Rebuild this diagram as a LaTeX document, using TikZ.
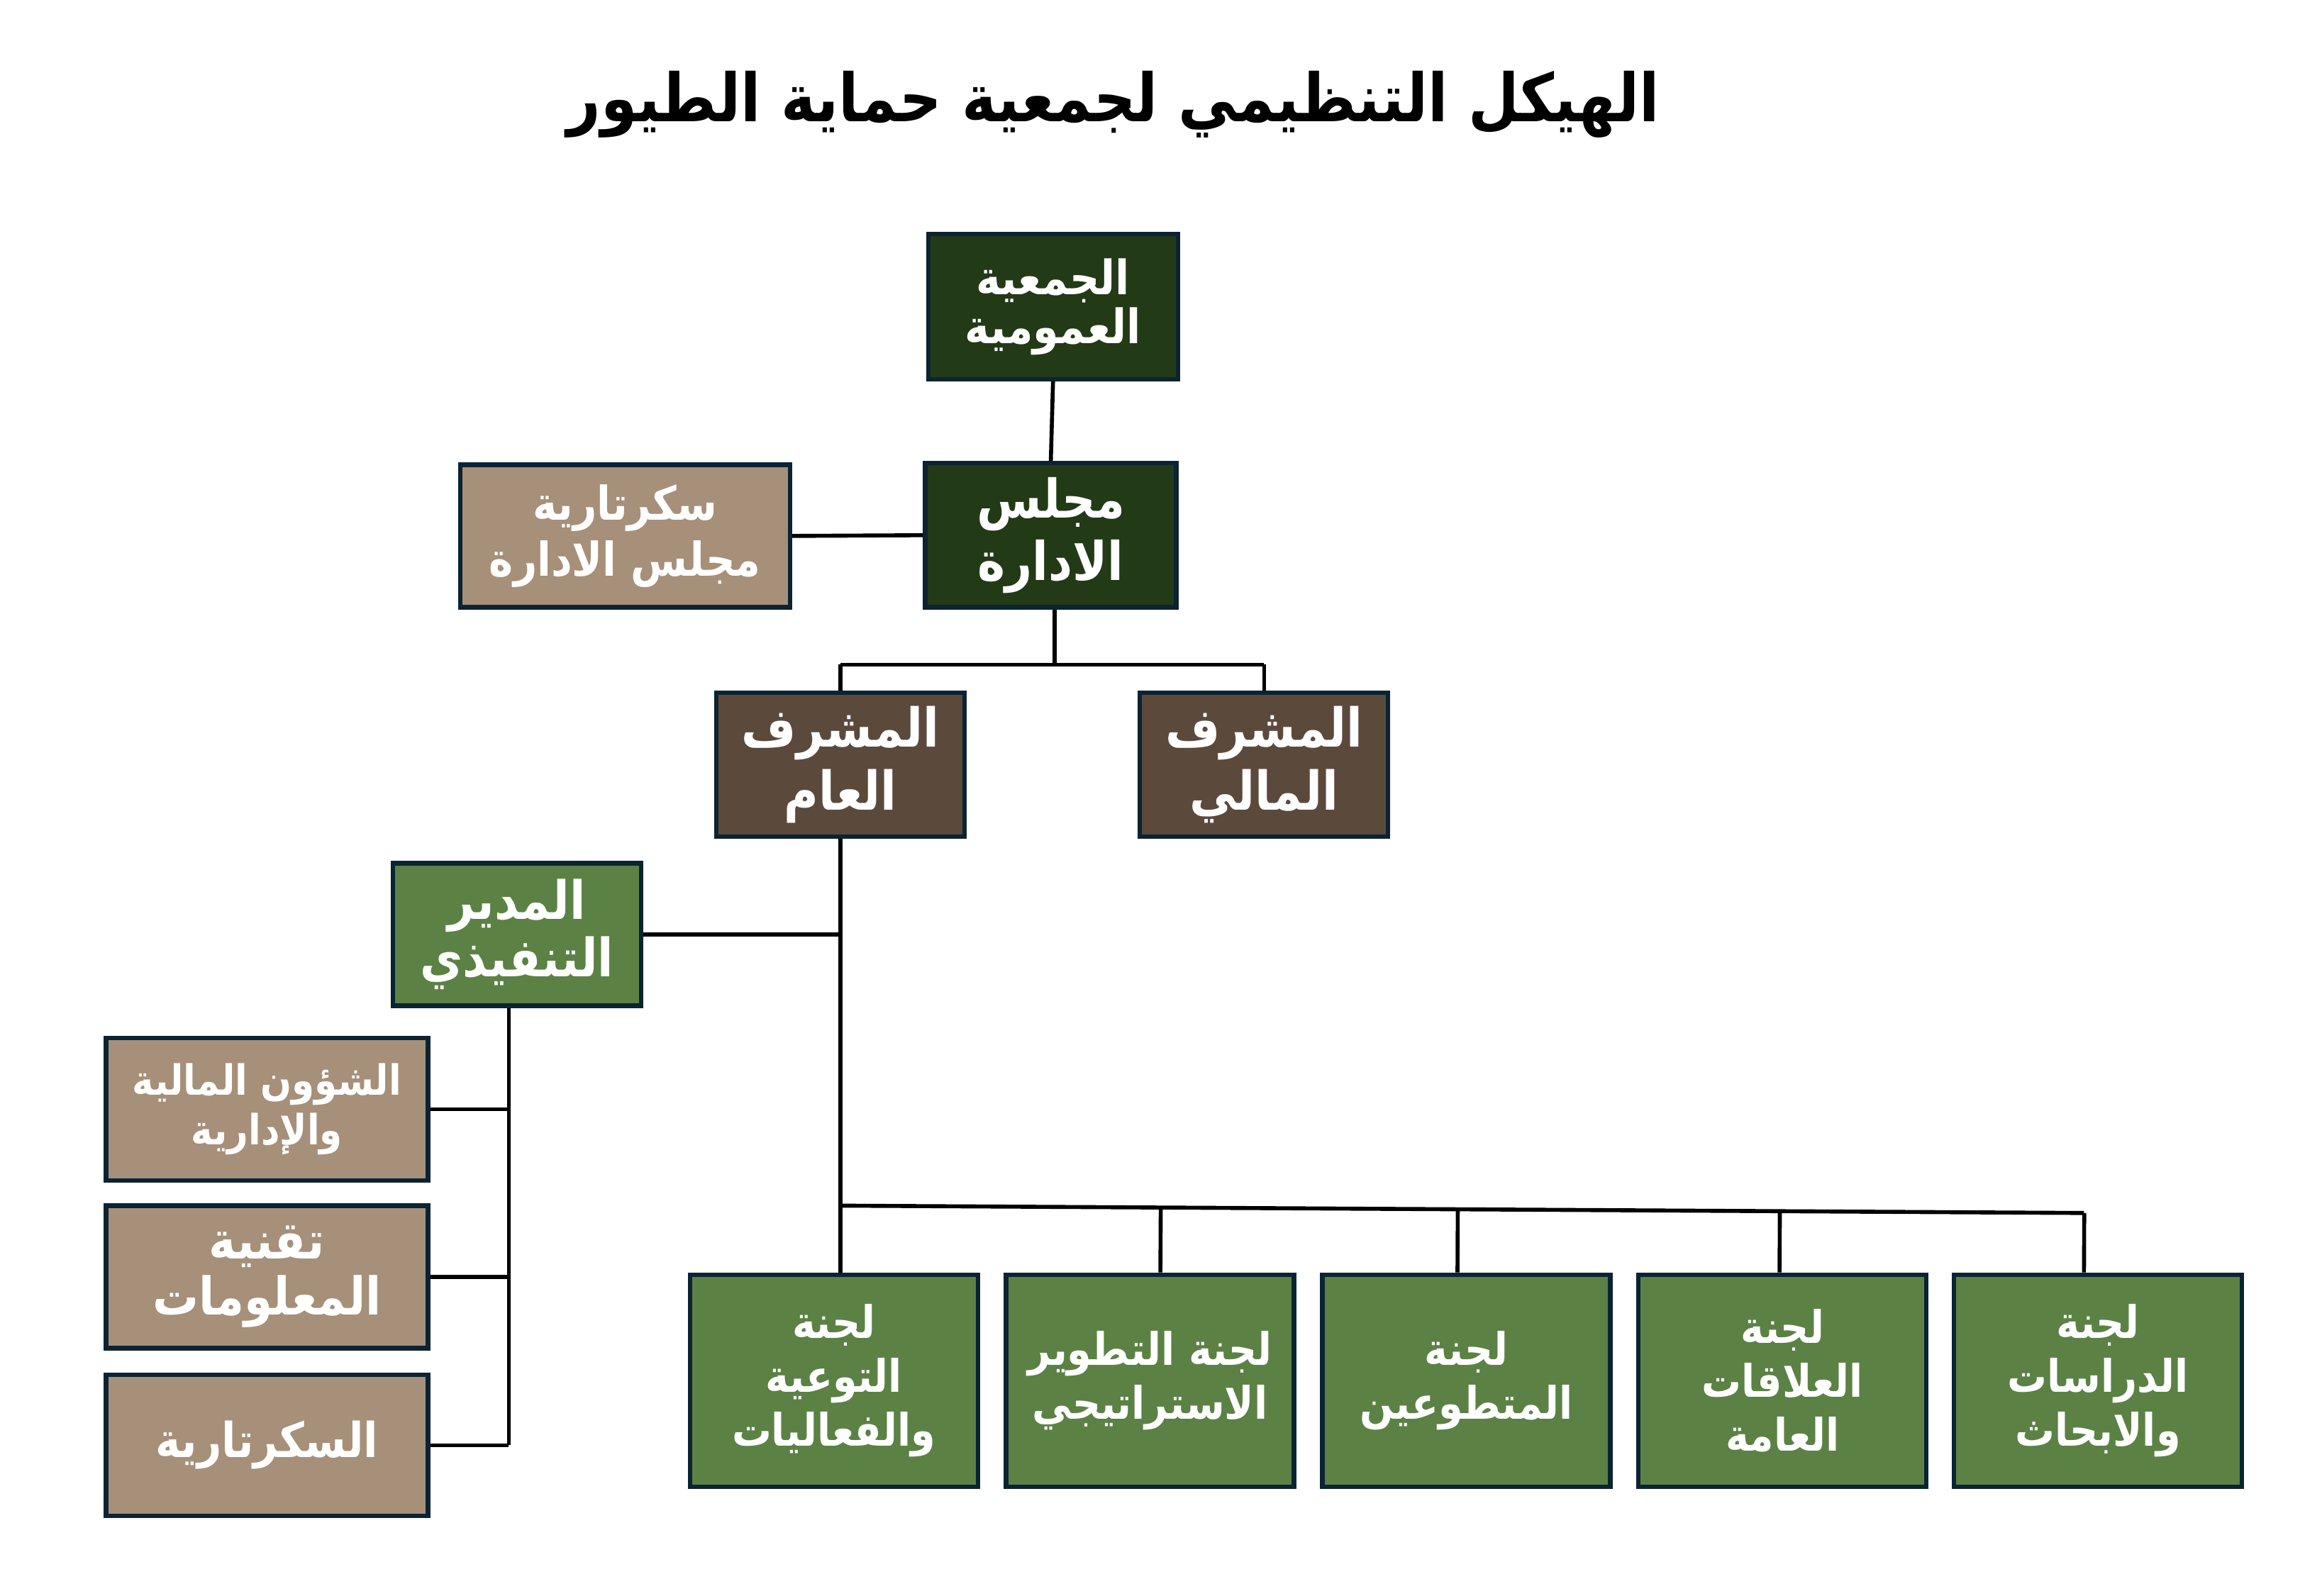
\documentclass[tikz,border=0pt]{standalone}
\usepackage{fontspec}
\TeXXeTstate=1
\newfontfamily\arfont[Script=Arabic, FakeStretch=0.88]{DejaVu Sans}
\newcommand\artxt[1]{\beginR #1\endR}
\usetikzlibrary{calc}
\definecolor{dkgreen}{HTML}{233A16}
\definecolor{mdgreen}{HTML}{5B8244}
\definecolor{tanbox}{HTML}{A69079}
\definecolor{brownbox}{HTML}{5B4A3C}
\definecolor{navyline}{HTML}{0B2333}
\begin{document}
\begin{tikzpicture}[x=0.02073cm,y=-0.02073cm,
  box/.style={draw=navyline, line width=1.8pt, text=white, align=center, inner sep=2pt},
  darkbox/.style={box, fill=dkgreen},
  brbox/.style={box, fill=brownbox, minimum width=3.50cm, minimum height=2.03cm, font=\arfont\bfseries\fontsize{21.5}{25.5}\selectfont},
  tbox/.style={box, fill=tanbox, minimum width=4.54cm, minimum height=2.01cm},
  gbox/.style={box, fill=mdgreen, minimum width=4.06cm, minimum height=2.99cm, font=\arfont\bfseries\fontsize{18}{21.6}\selectfont},
  conn/.style={draw=black, line width=1.6pt}]
\useasboundingbox (0,0) rectangle (32.5cm,-22.5cm);
\fill[white] (0,0) rectangle (32.5cm,-22.5cm);

\node[font=\arfont\bfseries\fontsize{26.7}{30}\selectfont] (title) at (757,71) {\artxt{الهيكل التنظيمي لجمعية حماية الطيور}};

\node[darkbox, minimum width=3.52cm, minimum height=2.05cm, font=\arfont\bfseries\fontsize{19}{19.6}\selectfont] (A) at (716,208.5) {\artxt{الجمعية}\\\artxt{العمومية}};
\node[darkbox, minimum width=3.54cm, minimum height=2.03cm, font=\arfont\bfseries\fontsize{21.4}{25}\selectfont] (B) at (714.5,364) {\artxt{مجلس}\\\artxt{الادارة}};
\node[box, fill=tanbox, minimum width=4.65cm, minimum height=2.01cm, font=\arfont\bfseries\fontsize{18.7}{22.5}\selectfont] (C) at (425,364.5) {\artxt{سكرتارية}\\\artxt{مجلس الادارة}};
\node[brbox] (D) at (571.5,520) {\artxt{المشرف}\\\artxt{العام}};
\node[brbox] (E) at (859.5,520) {\artxt{المشرف}\\\artxt{المالي}};
\node[box, fill=mdgreen, minimum width=3.50cm, minimum height=2.01cm, font=\arfont\bfseries\fontsize{21.2}{23}\selectfont] (F) at (351.5,635.5) {\artxt{المدير}\\\artxt{التنفيذي}};
\node[tbox, font=\arfont\bfseries\fontsize{16.7}{20}\selectfont] (G) at (181.5,754.5) {\artxt{الشؤون المالية}\\\artxt{والإدارية}};
\node[tbox, font=\arfont\bfseries\fontsize{20.9}{22.5}\selectfont] (H) at (181.5,868.5) {\artxt{تقنية}\\\artxt{المعلومات}};
\node[tbox, minimum height=1.99cm, font=\arfont\bfseries\fontsize{19.3}{22.5}\selectfont] (I) at (181.5,983) {\artxt{السكرتارية}};

\node[gbox] (J1) at (567,939) {\artxt{لجنة}\\\artxt{التوعية}\\\artxt{والفعاليات}};
\node[gbox] (J2) at (782,939) {\artxt{لجنة التطوير}\\\artxt{الاستراتيجي}};
\node[gbox] (J3) at (997,939) {\artxt{لجنة}\\\artxt{المتطوعين}};
\node[gbox] (J4) at (1212,939) {\artxt{لجنة}\\\artxt{العلاقات}\\\artxt{العامة}};
\node[gbox] (J5) at (1426.5,939) {\artxt{لجنة}\\\artxt{الدراسات}\\\artxt{والابحاث}};

% connectors
\draw[conn] (A.south) -- (B.north);
\draw[conn] (C.east) -- (B.west);
\coordinate (bj) at (717,452);
\draw[conn] (B.south -| bj) -- (bj);
\draw[conn] (D.north |- bj) -- (E.north |- bj);
\draw[conn] (D.north |- bj) -- (D.north);
\draw[conn] (E.north |- bj) -- (E.north);

\draw[conn] (D.south) -- (D.south |- J1.north);
\draw[conn] (F.east) -- (F.east -| D.south);

\coordinate (fv) at ([xshift=-0.115cm]F.south);
\draw[conn] (fv) -- (fv |- I.east);
\draw[conn] (G.east) -- (G.east -| fv);
\draw[conn] (H.east) -- (H.east -| fv);
\draw[conn] (I.east) -- (I.east -| fv);

% committee drops (slightly off-centre as in the reference)
\coordinate (d2) at ($(J2.north)+(7,0)$);
\coordinate (d3) at ($(J3.north)+(-6,0)$);
\coordinate (d4) at ($(J4.north)+(-2,0)$);
\coordinate (d5) at ($(J5.north)+(-9.5,0)$);
\coordinate (busL) at (D.south |- 0,820);
\coordinate (busR) at (d5 |- 0,825);
\draw[conn] (busL) -- (busR);
\foreach \d in {d2,d3,d4,d5}{
  \draw[conn] ($(busL)!(\d)!(busR)$) -- (\d);
}
\end{tikzpicture}
\end{document}
